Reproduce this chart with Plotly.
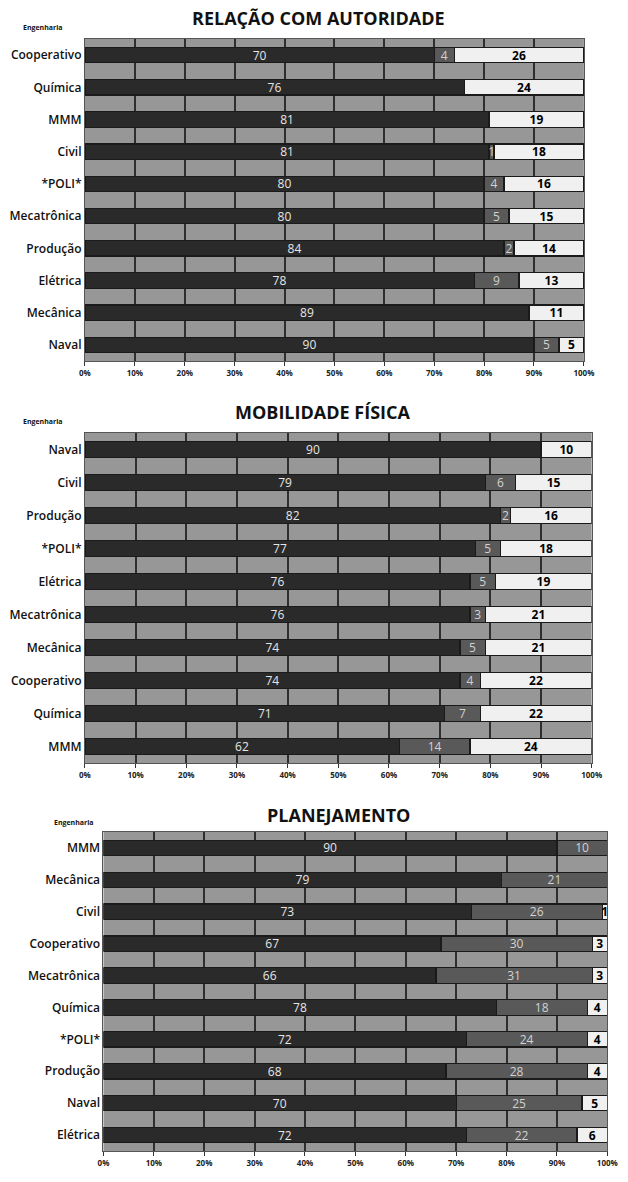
import plotly.graph_objects as go
from plotly.subplots import make_subplots

# ---------------- data ----------------
titles = ["RELAÇÃO COM AUTORIDADE", "MOBILIDADE FÍSICA", "PLANEJAMENTO"]

cat1 = ["Cooperativo", "Química", "MMM", "Civil", "*POLI*", "Mecatrônica",
        "Produção", "Elétrica", "Mecânica", "Naval"]
s1_a = [70, 76, 81, 81, 80, 80, 84, 78, 89, 90]
s1_b = [4, 0, 0, 1, 4, 5, 2, 9, 0, 5]
s1_c = [26, 24, 19, 18, 16, 15, 14, 13, 11, 5]

cat2 = ["Naval", "Civil", "Produção", "*POLI*", "Elétrica", "Mecatrônica",
        "Mecânica", "Cooperativo", "Química", "MMM"]
s2_a = [90, 79, 82, 77, 76, 76, 74, 74, 71, 62]
s2_b = [0, 6, 2, 5, 5, 3, 5, 4, 7, 14]
s2_c = [10, 15, 16, 18, 19, 21, 21, 22, 22, 24]

cat3 = ["MMM", "Mecânica", "Civil", "Cooperativo", "Mecatrônica", "Química",
        "*POLI*", "Produção", "Naval", "Elétrica"]
s3_a = [90, 79, 73, 67, 66, 78, 72, 68, 70, 72]
s3_b = [10, 21, 26, 30, 31, 18, 24, 28, 25, 22]
s3_c = [0, 0, 1, 3, 3, 4, 4, 4, 5, 6]

xticks = [0, 10, 20, 30, 40, 50, 60, 70, 80, 90, 100]
xticklabels = ["0%", "10%", "20%", "30%", "40%", "50%", "60%", "70%", "80%", "90%", "100%"]

panels = [(cat1, s1_a, s1_b, s1_c), (cat2, s2_a, s2_b, s2_c), (cat3, s3_a, s3_b, s3_c)]

# ---------------- layout geometry (pixels) ----------------
W, H = 628, 1182
px_x = [(81, 593), (81, 601), (100, 617)]
px_y = [(39, 361), (433, 763), (832, 1151)]
title_pos = [(321, 18), (325, 412), (341, 815)]
eng_pos = [(38, 28), (38, 421), (70, 822)]

colors = ["#2a2a2a", "#595959", "#f0f0f0"]
txtcolors = ["#e6e6e6", "#d2d2d2", "#000000"]

fig = make_subplots(rows=3, cols=1)

def lbl(vals):
    return [str(v) if v > 0 else "" for v in vals]

for i, (cats, a, b, c) in enumerate(panels):
    for j, vals in enumerate([a, b, c]):
        fig.add_trace(go.Bar(
            y=cats, x=vals, orientation="h",
            marker=dict(color=colors[j], line=dict(color="#1a1a1a", width=1.2)),
            text=lbl(vals), textposition="inside", insidetextanchor="middle",
            textangle=0,
            textfont=dict(color=txtcolors[j], size=12,
                          family="Open Sans", weight=("bold" if j == 2 else "normal")),
            constraintext="none", cliponaxis=False,
            showlegend=False, hoverinfo="skip",
        ), row=i + 1, col=1)

for i in range(3):
    xa = "xaxis" if i == 0 else f"xaxis{i+1}"
    ya = "yaxis" if i == 0 else f"yaxis{i+1}"
    x0, x1 = px_x[i]
    y0, y1 = px_y[i]
    fig.layout[xa].update(
        domain=[x0 / W, x1 / W], range=[0, 100],
        tickvals=xticks, ticktext=xticklabels,
        showgrid=True, gridcolor="#2e2e2e", gridwidth=2,
        ticks="outside", ticklen=4, tickcolor="#333",
        showline=True, linecolor="#555555", linewidth=1, mirror=True,
        zeroline=False,
        tickfont=dict(size=8, color="#222", family="Open Sans", weight="bold"),
    )
    fig.layout[ya].update(
        domain=[1 - y1 / H, 1 - y0 / H], autorange="reversed",
        showgrid=False, ticks="", showline=True, linecolor="#555555",
        mirror=True,
        tickfont=dict(size=12, color="#111", family="Open Sans", weight=600),
    )
    tx, ty = title_pos[i]
    fig.add_annotation(x=tx / W, y=1 - ty / H, xref="paper", yref="paper",
                       text=titles[i], showarrow=False, xanchor="center", yanchor="middle",
                       font=dict(size=18, color="#111", family="Open Sans", weight="bold"))
    ex, ey = eng_pos[i]
    fig.add_annotation(x=ex / W, y=1 - ey / H, xref="paper", yref="paper",
                       text="Engenharia", showarrow=False, xanchor="center", yanchor="middle",
                       font=dict(size=7, color="#111", family="Open Sans", weight="bold"))

fig.update_layout(
    width=W, height=H, margin=dict(l=0, r=0, t=0, b=0),
    barmode="stack", bargap=0.52,
    plot_bgcolor="#979797", paper_bgcolor="white",
    uniformtext=dict(minsize=12, mode="show"),
)

fig.write_html("out.html")
